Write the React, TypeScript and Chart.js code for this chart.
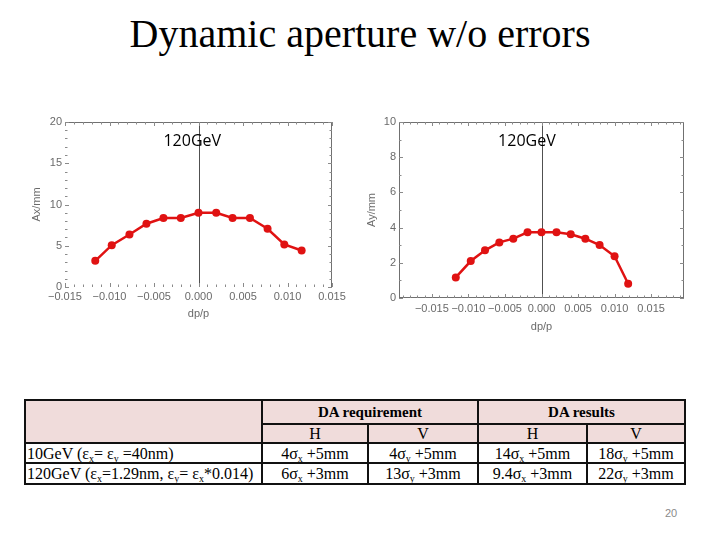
import React, { useEffect, useRef } from "react";
import { Chart, registerables } from "chart.js";
Chart.register(...registerables);

// ---- data ----
const dpLeft = [-0.0116, -0.00975, -0.00776, -0.00585, -0.00394, -0.00199, 0, 0.00199, 0.00383, 0.00578, 0.00776, 0.00964, 0.01159];
const axValues = [3.17, 5.07, 6.37, 7.67, 8.36, 8.36, 9.0, 9.0, 8.36, 8.36, 7.06, 5.15, 4.42];
const dpRight = [-0.01173, -0.00968, -0.00773, -0.00577, -0.00386, -0.00191, 0, 0.00205, 0.004, 0.006, 0.00795, 0.01, 0.01186];
const ayValues = [1.17, 2.1, 2.71, 3.16, 3.37, 3.73, 3.73, 3.73, 3.62, 3.37, 3.01, 2.37, 0.81];
const xTickValues = [-0.015, -0.01, -0.005, 0, 0.005, 0.01, 0.015];
const leftYTicks = [0, 5, 10, 15, 20];
const rightYTicks = [0, 2, 4, 6, 8, 10];
const energyLabel = "120GeV";

const RED = "#e01212";
const tickFont = { family: "'Liberation Sans', Arial, sans-serif", size: 11 };
const gray = "#6a6a6a";

function fmtX(v: number) {
  if (v === 0) return "0.000";
  return (v < 0 ? "\u2212" : "") + Math.abs(v).toFixed(3);
}

type Cfg = {
  xs: number[];
  ys: number[];
  xMin: number;
  xMax: number;
  yMax: number;
  yTicks: number[];
  yMinorStep: number;
  yTitle: string;
  width: number;
  height: number;
  padTop: number;
  padRight: number;
  yWidth: number;
  xHeight: number;
  labelX: number;
  labelY: number;
  edges: string[];
  xTickPad: number;
  xTitlePad: number;
};

function framePlugin(cfg: Cfg) {
  return {
    id: "frame",
    beforeDatasetsDraw(chart: any) {
      const { ctx, chartArea: a, scales } = chart;
      const xs = scales.x;
      const ys = scales.y;
      ctx.save();
      const x0 = xs.getPixelForValue(0);
      ctx.strokeStyle = "#505050";
      ctx.lineWidth = 1;
      ctx.beginPath();
      ctx.moveTo(Math.round(x0) + 0.5, a.top);
      ctx.lineTo(Math.round(x0) + 0.5, a.bottom);
      ctx.stroke();
      ctx.strokeStyle = "#707070";
      ctx.beginPath();
      if (cfg.edges.includes("top")) { ctx.moveTo(a.left, a.top + 0.5); ctx.lineTo(a.right, a.top + 0.5); }
      if (cfg.edges.includes("bottom")) { ctx.moveTo(a.left, a.bottom - 0.5); ctx.lineTo(a.right, a.bottom - 0.5); }
      if (cfg.edges.includes("left")) { ctx.moveTo(a.left + 0.5, a.top); ctx.lineTo(a.left + 0.5, a.bottom); }
      if (cfg.edges.includes("right")) { ctx.moveTo(a.right - 0.5, a.top); ctx.lineTo(a.right - 0.5, a.bottom); }
      ctx.stroke();
      ctx.strokeStyle = "#8a8a8a";
      ctx.beginPath();
      const drawX = (v: number, len: number) => {
        const p = Math.round(xs.getPixelForValue(v)) + 0.5;
        if (p < a.left - 0.5 || p > a.right + 0.5) return;
        ctx.moveTo(p, a.bottom); ctx.lineTo(p, a.bottom - len);
        ctx.moveTo(p, a.top); ctx.lineTo(p, a.top + len);
      };
      const drawY = (v: number, len: number) => {
        const p = Math.round(ys.getPixelForValue(v)) + 0.5;
        ctx.moveTo(a.left, p); ctx.lineTo(a.left + len, p);
        ctx.moveTo(a.right, p); ctx.lineTo(a.right - len, p);
      };
      for (let i = -20; i <= 20; i++) {
        const v = i / 1000;
        if (v < cfg.xMin || v > cfg.xMax) continue;
        drawX(v, i % 5 === 0 ? 4 : 2.5);
      }
      for (let v = 0; v <= cfg.yMax + 1e-9; v += cfg.yMinorStep) {
        drawY(v, cfg.yTicks.includes(Math.round(v * 1000) / 1000) ? 4 : 2.5);
      }
      ctx.stroke();
      ctx.restore();
    },
    afterDatasetsDraw(chart: any) {
      const { ctx, scales } = chart;
      ctx.save();
      ctx.fillStyle = "#000";
      ctx.font = "16px 'Open Sans', 'Noto Sans', sans-serif";
      ctx.textAlign = "center";
      ctx.textBaseline = "middle";
      ctx.fillText(energyLabel, scales.x.getPixelForValue(cfg.labelX), scales.y.getPixelForValue(cfg.labelY));
      ctx.restore();
    },
  };
}

function DAChart({ cfg, style }: { cfg: Cfg; style: React.CSSProperties }) {
  const ref = useRef<HTMLCanvasElement>(null);
  useEffect(() => {
    if (!ref.current) return;
    const chart = new Chart(ref.current, {
      type: "scatter",
      data: {
        datasets: [
          {
            data: cfg.xs.map((x, i) => ({ x, y: cfg.ys[i] })),
            showLine: true,
            borderColor: RED,
            backgroundColor: RED,
            borderWidth: 2.5,
            pointRadius: 4,
            pointHoverRadius: 4,
            pointBorderWidth: 0,
          },
        ],
      },
      options: {
        animation: false,
        responsive: false,
        maintainAspectRatio: false,
        events: [],
        layout: { padding: { top: cfg.padTop, right: cfg.padRight, left: 0, bottom: 0 } },
        plugins: { legend: { display: false }, tooltip: { enabled: false } },
        scales: {
          x: {
            type: "linear",
            min: cfg.xMin,
            max: cfg.xMax,
            grid: { display: false, drawTicks: false },
            border: { display: false },
            afterBuildTicks: (s: any) => {
              s.ticks = xTickValues.map((v) => ({ value: v }));
            },
            afterFit: (s: any) => {
              s.height = cfg.xHeight;
              s.paddingLeft = 0;
              s.paddingRight = 0;
            },
            ticks: {
              autoSkip: false,
              maxRotation: 0,
              minRotation: 0,
              padding: cfg.xTickPad,
              color: gray,
              font: tickFont,
              callback: (v: any) => fmtX(Number(v)),
            },
            title: { display: true, text: "dp/p", color: gray, font: tickFont, padding: { top: 0, bottom: cfg.xTitlePad } },
          },
          y: {
            type: "linear",
            min: 0,
            max: cfg.yMax,
            grid: { display: false, drawTicks: false },
            border: { display: false },
            afterBuildTicks: (s: any) => {
              s.ticks = cfg.yTicks.map((v) => ({ value: v }));
            },
            afterFit: (s: any) => {
              s.width = cfg.yWidth;
              s.paddingTop = 0;
              s.paddingBottom = 0;
            },
            ticks: { autoSkip: false, padding: 3, color: gray, font: tickFont },
            title: { display: true, text: cfg.yTitle, color: gray, font: tickFont, padding: { top: 5, bottom: 0 } },
          },
        },
      },
      plugins: [framePlugin(cfg)],
    } as any);
    return () => chart.destroy();
  }, []);
  return <canvas ref={ref} width={cfg.width} height={cfg.height} style={{ position: "absolute", ...style }} />;
}

const leftCfg: Cfg = {
  xs: dpLeft, ys: axValues, xMin: -0.015, xMax: 0.015, yMax: 20, yTicks: leftYTicks, yMinorStep: 1,
  yTitle: "Ax/mm", width: 330, height: 215, padTop: 12, padRight: 23, yWidth: 40, xHeight: 38,
  labelX: -0.0007, labelY: 17.7, edges: ["top", "right"], xTickPad: 3, xTitlePad: 4,
};
const rightCfg: Cfg = {
  xs: dpRight, ys: ayValues, xMin: -0.0195, xMax: 0.0195, yMax: 10, yTicks: rightYTicks, yMinorStep: 1,
  yTitle: "Ay/mm", width: 340, height: 230, padTop: 12, padRight: 16, yWidth: 39, xHeight: 42,
  labelX: -0.002, labelY: 8.9, edges: ["top", "right", "left", "bottom"], xTickPad: 4, xTitlePad: 6,
};

const serif = "'Liberation Serif', 'Times New Roman', serif";
const border = "2px solid #111";
const pink = "#f0dcdb";

function Sub({ c }: { c: string }) {
  return <sub style={{ fontSize: "10px", verticalAlign: "-3px", lineHeight: 0 }}>{c}</sub>;
}

export default function App() {
  const td: React.CSSProperties = { border, padding: "0 2px", textAlign: "center", whiteSpace: "nowrap", overflow: "hidden" };
  return (
    <div style={{ position: "fixed", left: 0, top: 0, width: 720, height: 540, background: "#fff", overflow: "hidden" }}>
      <div style={{ position: "absolute", left: 0, top: 12, width: 720, textAlign: "center", fontFamily: serif, fontSize: 40, lineHeight: "44px", color: "#000" }}>
        Dynamic aperture w/o errors
      </div>
      <DAChart cfg={leftCfg} style={{ left: 25, top: 110 }} />
      <DAChart cfg={rightCfg} style={{ left: 360, top: 110 }} />
      <table
        style={{
          position: "absolute", left: 24, top: 399, borderCollapse: "collapse", fontFamily: serif, fontSize: 16,
          color: "#000", tableLayout: "fixed", width: 660,
        }}
      >
        <colgroup>
          <col style={{ width: 237 }} />
          <col style={{ width: 106 }} />
          <col style={{ width: 110 }} />
          <col style={{ width: 109 }} />
          <col style={{ width: 98 }} />
        </colgroup>
        <tbody>
          <tr style={{ height: 24, background: pink, lineHeight: "18px" }}>
            <td rowSpan={2} style={{ ...td }}></td>
            <td colSpan={2} style={{ ...td, fontWeight: "bold", fontSize: 15 }}>DA requirement</td>
            <td colSpan={2} style={{ ...td, fontWeight: "bold", fontSize: 15 }}>DA results</td>
          </tr>
          <tr style={{ height: 19, background: pink, lineHeight: "16px" }}>
            <td style={td}>H</td>
            <td style={td}>V</td>
            <td style={td}>H</td>
            <td style={td}>V</td>
          </tr>
          <tr style={{ height: 20, lineHeight: "17px" }}>
            <td style={{ ...td, textAlign: "left", padding: "0 1px" }}>10GeV (ε<Sub c="x" />= ε<Sub c="y" /> =40nm)</td>
            <td style={td}>4σ<Sub c="x" /> +5mm</td>
            <td style={td}>4σ<Sub c="y" /> +5mm</td>
            <td style={td}>14σ<Sub c="x" /> +5mm</td>
            <td style={td}>18σ<Sub c="y" /> +5mm</td>
          </tr>
          <tr style={{ height: 21, lineHeight: "17px" }}>
            <td style={{ ...td, textAlign: "left", padding: "0 1px" }}>120GeV (ε<Sub c="x" />=1.29nm, ε<Sub c="y" />= ε<Sub c="x" />*0.014)</td>
            <td style={td}>6σ<Sub c="x" /> +3mm</td>
            <td style={td}>13σ<Sub c="y" /> +3mm</td>
            <td style={td}>9.4σ<Sub c="x" /> +3mm</td>
            <td style={td}>22σ<Sub c="y" /> +3mm</td>
          </tr>
        </tbody>
      </table>
      <div style={{ position: "absolute", left: 660, top: 507, width: 22, textAlign: "center", fontFamily: "'Liberation Sans', sans-serif", fontSize: 11, color: "#8a8a8a" }}>
        20
      </div>
    </div>
  );
}
